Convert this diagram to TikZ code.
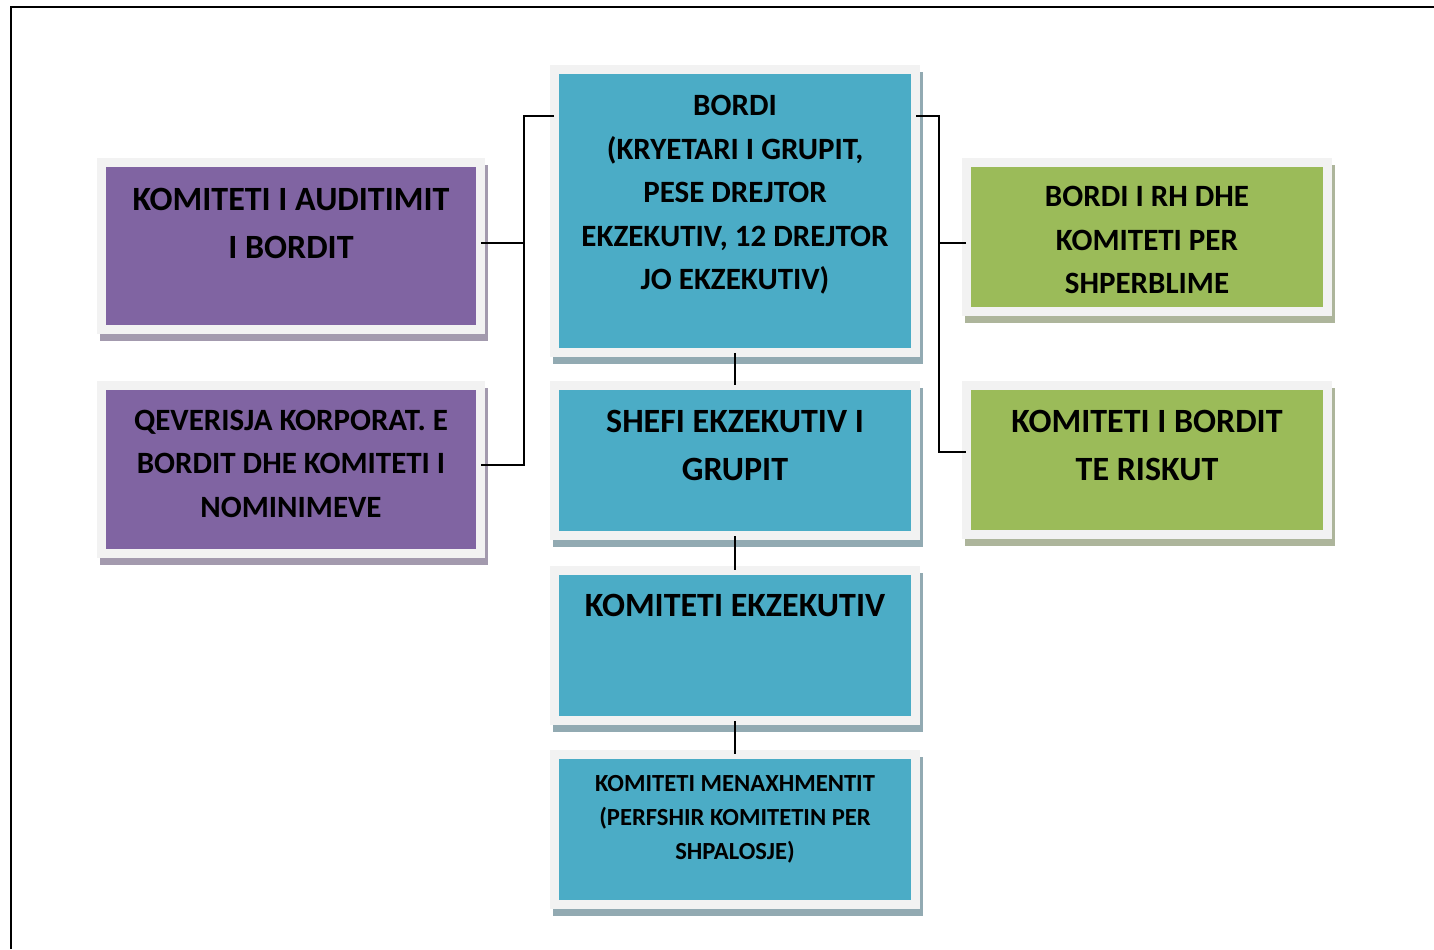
\documentclass[tikz,border=0pt]{standalone}
\usepackage{fontspec}
\setmainfont{Carlito}
\usetikzlibrary{backgrounds}
\definecolor{boxblue}{HTML}{4BACC6}
\definecolor{boxpurple}{HTML}{8064A2}
\definecolor{boxgreen}{HTML}{9BBB59}
\definecolor{framegray}{HTML}{F2F2F2}
\definecolor{shblue}{HTML}{92AAB2}
\definecolor{shpurple}{HTML}{A39AAE}
\definecolor{shgreen}{HTML}{ADB59B}
\newcommand{\boxtext}[4]{\parbox[c][#1][t]{#2}{\centering\rule{0pt}{#3}#4}}
\tikzset{
  orgbox/.style={inner sep=0pt, outer sep=0pt, fill=#1},
  bigtxt/.style={font=\bfseries\fontsize{17}{24}\selectfont},
  midtxt/.style={font=\bfseries\fontsize{15.5}{21.75}\selectfont},
  smalltxt/.style={font=\bfseries\fontsize{12.3}{17}\selectfont},
  link/.style={line width=1pt, shorten <=2.5pt, shorten >=2.5pt}
}
\begin{document}
\begin{tikzpicture}[x=0.5pt,y=0.5pt]
        \useasboundingbox (0,0) rectangle (1434,949);
        % page frame
        \draw[line width=1pt] (11,0) -- (11,942) -- (1434,942);
        % middle column
        \node[orgbox=boxblue, midtxt] (bordi) at (735,738)
            {\boxtext{137pt}{176pt}{20.8pt}{BORDI\\(KRYETARI I GRUPIT,\\PESE DREJTOR\\EKZEKUTIV, 12 DREJTOR\\JO EKZEKUTIV)}};
        \node[orgbox=boxblue, bigtxt] (shefi) at (735,488.5)
            {\boxtext{70.5pt}{176pt}{21.2pt}{SHEFI EKZEKUTIV I\\GRUPIT}};
        \node[orgbox=boxblue, bigtxt] (kekz) at (735,303.5)
            {\boxtext{70.5pt}{176pt}{20.8pt}{KOMITETI EKZEKUTIV}};
        \node[orgbox=boxblue, smalltxt] (menax) at (735,119.5)
            {\boxtext{70.5pt}{176pt}{16.4pt}{KOMITETI MENAXHMENTIT\\(PERFSHIR KOMITETIN PER\\SHPALOSJE)}};
        % left column
        \node[orgbox=boxpurple, bigtxt] (audit) at (291,703)
            {\boxtext{79pt}{185pt}{21.7pt}{KOMITETI I AUDITIMIT\\I BORDIT}};
        \node[orgbox=boxpurple, midtxt] (qever) at (291,479.5)
            {\boxtext{79.5pt}{185pt}{20pt}{QEVERISJA KORPORAT. E\\BORDIT DHE KOMITETI I\\NOMINIMEVE}};
        % right column
        \node[orgbox=boxgreen, midtxt] (rh) at (1147,712)
            {\boxtext{70pt}{176pt}{20pt}{BORDI I RH DHE\\KOMITETI PER\\SHPERBLIME}};
        \node[orgbox=boxgreen, bigtxt] (risk) at (1147,489)
            {\boxtext{70pt}{176pt}{21pt}{KOMITETI I BORDIT\\TE RISKUT}};
        % white-grey frames and shadows behind the boxes
        \begin{scope}[on background layer]
        \foreach \n/\s in {bordi/shblue, shefi/shblue, kekz/shblue, menax/shblue,
                           audit/shpurple, qever/shpurple, rh/shgreen, risk/shgreen} {
            \fill[\s] ([shift={(-3pt,1pt)}]\n.north west) rectangle ([shift={(6pt,-8pt)}]\n.south east);
            \fill[framegray] ([shift={(-4.5pt,4.5pt)}]\n.north west) rectangle ([shift={(4.5pt,-4.5pt)}]\n.south east);
        }
        \end{scope}
        % bus coordinates
        \coordinate (lbus) at (524,833);
        \coordinate (rbus) at (939,833);
        % left side connectors
        \draw[link] (lbus -| bordi.west) -- (lbus) |- ([yshift=2.25pt]qever.east);
        \draw[link, shorten >=0pt] ([yshift=1.5pt]audit.east) -- ([yshift=1.5pt]audit.east -| lbus);
        % right side connectors
        \draw[link] (rbus -| bordi.east) -- (rbus) |- ([yshift=4pt]risk.west);
        \draw[link, shorten >=0pt] ([yshift=-3pt]rh.west) -- ([yshift=-3pt]rh.west -| rbus);
        % middle connectors
        \draw[link] (bordi.south) -- (shefi.north);
        \draw[link] (shefi.south) -- (kekz.north);
        \draw[link] (kekz.south) -- (menax.north);
\end{tikzpicture}
\end{document}
